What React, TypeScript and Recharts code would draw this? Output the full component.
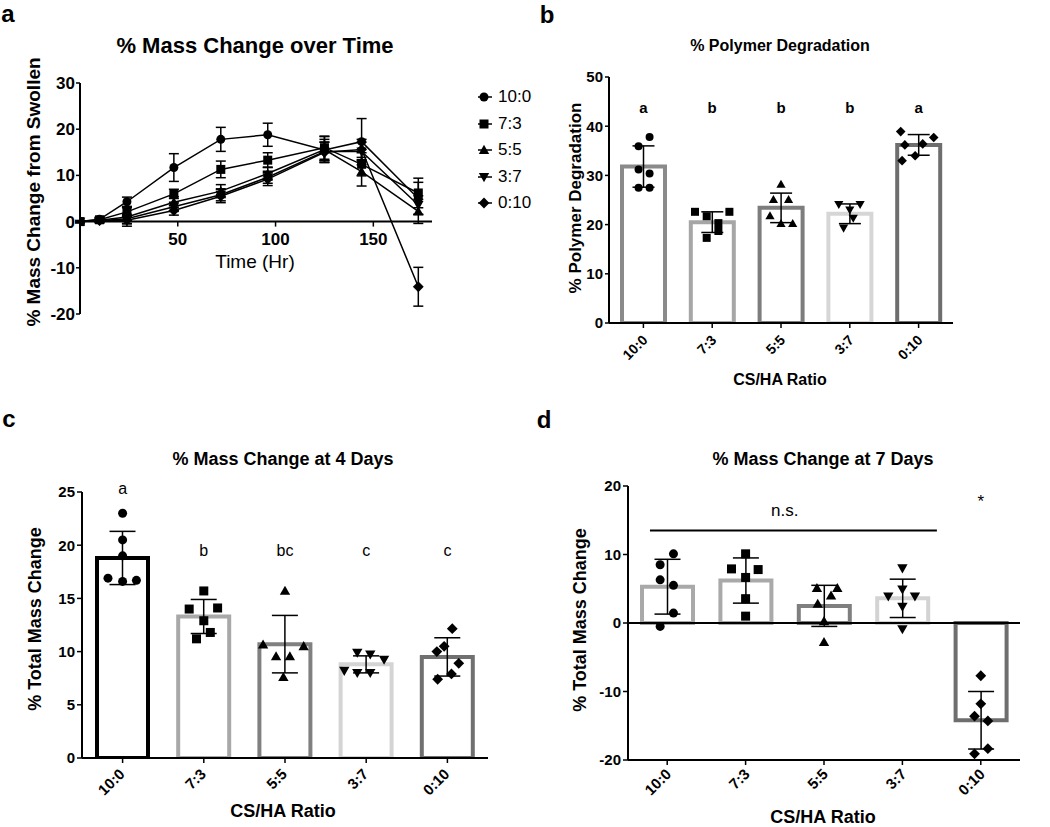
import React from "react";
import {
  Bar,
  Cell,
  ComposedChart,
  ErrorBar,
  Line,
  LineChart,
  ReferenceDot,
  ReferenceLine,
  Scatter,
  XAxis,
  YAxis,
} from "recharts";

const FONT = "'Liberation Sans', Arial, Helvetica, sans-serif";

// ---- panel a: mass change over time ----
const hours = [0, 10, 24, 48, 72, 96, 125, 144, 173];
const mass100 = [0, 0.5, 4.3, 11.7, 17.8, 18.8, 15.5, 17.3, 5.0];
const mass100Sd = [0.2, 0.4, 1.0, 3.0, 2.6, 2.5, 2.3, 5.0, 3.5];
const mass73 = [0, 0.4, 2.1, 6.0, 11.3, 13.3, 16.0, 12.4, 6.2];
const mass73Sd = [0.2, 0.4, 1.0, 1.0, 1.8, 1.6, 2.5, 2.5, 3.2];
const mass55 = [0, 0.3, 1.0, 4.2, 6.6, 10.4, 15.6, 10.8, 2.2];
const mass55Sd = [0.2, 0.3, 2.0, 1.2, 1.4, 1.4, 2.8, 3.1, 2.6];
const mass37 = [0, 0.2, 0.6, 3.2, 5.8, 9.6, 15.2, 15.2, 3.6];
const mass37Sd = [0.2, 0.3, 1.0, 1.0, 1.3, 1.3, 2.0, 2.0, 2.0];
const mass010 = [0, 0.2, 0.3, 2.4, 5.5, 9.2, 15.0, 15.6, -14.1];
const mass010Sd = [0.2, 0.3, 0.8, 1.0, 1.4, 1.4, 2.2, 2.2, 4.2];
const hourTicks = [50, 100, 150];
const massTicks = [-20, -10, 0, 10, 20, 30];

const ratios = ["10:0", "7:3", "5:5", "3:7", "0:10"];
const markerKinds = ["circle", "square", "up", "down", "diamond"];

// ---- panel b: polymer degradation ----
const degMean = [31.8, 20.5, 23.4, 22.2, 36.2];
const degSd = [4.2, 2.1, 3.0, 2.0, 2.1];
const degLetters = ["a", "b", "b", "b", "a"];
const degPts = [
  [37.8, 35.9, 31.2, 30.4, 27.5, 27.5],
  [22.6, 21.7, 22.6, 20.3, 17.3, 18.7],
  [28.2, 25.1, 25.1, 21.8, 20.2, 20.2],
  [24.1, 24.1, 23.0, 21.3, 19.3],
  [38.9, 37.7, 36.2, 36.4, 34.0, 33.0],
];
const degJit = [
  [0.09, -0.07, -0.07, 0.09, -0.07, 0.09],
  [-0.25, -0.08, 0.25, 0.09, -0.08, 0.09],
  [0, -0.11, 0.11, -0.16, 0, 0.17],
  [-0.16, 0.15, 0, 0.05, -0.09],
  [-0.26, 0.22, -0.2, 0.06, -0.05, -0.24],
];
const degTicks = [0, 10, 20, 30, 40, 50];

// ---- panel c: mass change at 4 days ----
const day4Mean = [18.8, 13.3, 10.7, 8.8, 9.5];
const day4Sd = [2.5, 1.6, 2.7, 0.8, 1.8];
const day4Letters = ["a", "b", "bc", "c", "c"];
const day4LetterY = [24.85, 19.0, 19.0, 19.0, 19.0];
const day4Pts = [
  [23.0, 20.5, 19.0, 16.9, 16.6, 16.7],
  [15.7, 14.0, 14.1, 12.9, 11.2, 11.8],
  [15.7, 10.65, 10.5, 9.55, 9.55, 7.6],
  [8.2, 9.9, 9.75, 9.25, 8.0, 8.0],
  [12.15, 10.0, 10.5, 8.9, 7.9, 7.4],
];
const day4Jit = [
  [0, 0, 0, -0.18, 0, 0.17],
  [0, -0.18, 0.17, 0, -0.09, 0.08],
  [0, -0.27, 0.23, -0.11, 0.06, -0.02],
  [-0.27, -0.11, 0.05, 0.22, -0.11, 0.05],
  [0.06, -0.13, -0.04, 0.14, 0.05, -0.12],
];
const day4Ticks = [0, 5, 10, 15, 20, 25];

// ---- panel d: mass change at 7 days ----
const day7Mean = [5.3, 6.2, 2.5, 3.6, -14.2];
const day7Sd = [4.0, 3.3, 3.0, 2.8, 4.2];
const day7Pts = [
  [10.1, 8.5, 6.3, 5.5, 1.45, -0.5],
  [10.1, 7.9, 7.8, 6.65, 3.55, 1.0],
  [5.1, 5.1, 4.0, 2.8, 0.25, -2.8],
  [8.0, 3.9, 3.9, 4.9, 2.4, -0.9],
  [-7.7, -11.8, -13.6, -14.3, -18.35, -19.1],
];
const day7Jit = [
  [0.08, -0.09, -0.09, 0.08, 0.08, -0.09],
  [0, -0.18, 0.16, 0, 0, 0],
  [-0.09, 0.17, 0.09, -0.08, 0, 0],
  [0, -0.18, 0.16, 0, 0, 0],
  [0, 0, -0.08, 0.09, 0.09, -0.08],
];
const day7Ticks = [-20, -10, 0, 10, 20];
const nsSpan = [0.28, 3.94];
const nsLevel = 13.5;

// bar outline greys per panel
const degColors = ["#8a8a8a", "#a6a6a6", "#7d7d7d", "#d6d6d6", "#6e6e6e"];
const day4Colors = ["#000000", "#a8a8a8", "#808080", "#d4d4d4", "#707070"];
const day7Colors = ["#a9a9a9", "#a9a9a9", "#7f7f7f", "#d3d3d3", "#6e6e6e"];

const seriesA = [
  { name: "10:0", mean: mass100, sd: mass100Sd },
  { name: "7:3", mean: mass73, sd: mass73Sd },
  { name: "5:5", mean: mass55, sd: mass55Sd },
  { name: "3:7", mean: mass37, sd: mass37Sd },
  { name: "0:10", mean: mass010, sd: mass010Sd },
];

const tableA = hours.map((t, i) => {
  const row: Record<string, number> = { t };
  seriesA.forEach((s, k) => {
    row[`m${k}`] = s.mean[i];
    row[`e${k}`] = s.sd[i];
  });
  return row;
});

function Marker({ kind, cx, cy, s }: { kind: string; cx?: number; cy?: number; s: number }) {
  if (cx == null || cy == null) return <g />;
  const r = s / 2;
  if (kind === "circle") return <circle cx={cx} cy={cy} r={r} fill="#000" />;
  if (kind === "square")
    return <rect x={cx - r} y={cy - r} width={s} height={s} fill="#000" />;
  if (kind === "up") {
    const t = r * 1.15;
    return (
      <polygon
        points={`${cx},${cy - t} ${cx + t},${cy + t * 0.75} ${cx - t},${cy + t * 0.75}`}
        fill="#000"
      />
    );
  }
  if (kind === "down") {
    const t = r * 1.15;
    return (
      <polygon
        points={`${cx},${cy + t} ${cx + t},${cy - t * 0.75} ${cx - t},${cy - t * 0.75}`}
        fill="#000"
      />
    );
  }
  const d = r * 1.2;
  return (
    <polygon
      points={`${cx},${cy - d} ${cx + d},${cy} ${cx},${cy + d} ${cx - d},${cy}`}
      fill="#000"
    />
  );
}

function Txt({
  x,
  y,
  size,
  bold,
  rotate,
  children,
}: {
  x: number;
  y: number;
  size: number;
  bold?: boolean;
  rotate?: boolean;
  children: React.ReactNode;
}) {
  return (
    <div
      style={{
        position: "absolute",
        left: x,
        top: y,
        transform: `translate(-50%, -50%)${rotate ? " rotate(-90deg)" : ""}`,
        fontSize: size,
        fontWeight: bold ? 700 : 400,
        whiteSpace: "nowrap",
        lineHeight: 1,
        color: "#000",
      }}
    >
      {children}
    </div>
  );
}

const axisLine = { stroke: "#000", strokeWidth: 2 };
const tickLine = { stroke: "#000", strokeWidth: 1.5 };

function RotTick(props: any) {
  const { x, y, payload, fs, dx, dy } = props;
  const ax = x + dx;
  const ay = y + dy;
  return (
    <text
      x={ax}
      y={ay}
      transform={`rotate(-45, ${ax}, ${ay})`}
      textAnchor="end"
      fontSize={fs}
      fontWeight="bold"
      fill="#000"
    >
      {payload.value}
    </text>
  );
}

function textDot(label: string, fs: number, bold: boolean) {
  return (p: any) => (
    <text
      x={p.cx}
      y={p.cy}
      textAnchor="middle"
      fontSize={fs}
      fontWeight={bold ? "bold" : "normal"}
      fill="#000"
    >
      {label}
    </text>
  );
}

interface BarPanelProps {
  w: number;
  h: number;
  margin: { top: number; right: number; bottom: number; left: number };
  yDomain: [number, number];
  yTicks: number[];
  mean: number[];
  sd: number[];
  pts: number[][];
  jit: number[][];
  colors: string[];
  barSize: number;
  cap: number;
  dot: number;
  tickFs: number;
  xTickFs: number;
  xdx: number;
  xdy: number;
  tickSize: number;
  children?: React.ReactNode;
}

function BarPanel(p: BarPanelProps) {
  const rows = ratios.map((r, i) => ({ ratio: r, mean: p.mean[i], sd: p.sd[i] }));
  return (
    <ComposedChart width={p.w} height={p.h} data={rows} margin={p.margin}>
      <XAxis
        xAxisId="cat"
        dataKey="ratio"
        type="category"
        height={60}
        interval={0}
        tickSize={5}
        axisLine={axisLine}
        tickLine={tickLine}
        tick={(t: any) => <RotTick {...t} fs={p.xTickFs} dx={p.xdx} dy={p.xdy} />}
      />
      <XAxis xAxisId="jit" type="number" dataKey="x" domain={[0, 5]} hide allowDataOverflow />
      <YAxis
        width={50}
        domain={p.yDomain}
        ticks={p.yTicks}
        interval={0}
        allowDataOverflow
        tickSize={p.tickSize}
        tickMargin={2}
        axisLine={axisLine}
        tickLine={tickLine}
        tick={{ fontSize: p.tickFs, fontWeight: "bold", fill: "#000" }}
      />
      <Bar
        xAxisId="cat"
        dataKey="mean"
        barSize={p.barSize}
        fill="#fff"
        strokeWidth={4}
        isAnimationActive={false}
      >
        {rows.map((r, i) => (
          <Cell key={r.ratio} stroke={p.colors[i]} fill="#fff" />
        ))}
        <ErrorBar dataKey="sd" width={p.cap} stroke="#000" strokeWidth={1.5} direction="y" />
      </Bar>
      {p.children}
      {ratios.map((r, g) => (
        <Scatter
          key={r}
          xAxisId="jit"
          dataKey="y"
          data={p.pts[g].map((y, k) => ({ x: g + 0.5 + p.jit[g][k], y }))}
          isAnimationActive={false}
          shape={(s: any) => <Marker kind={markerKinds[g]} cx={s.cx} cy={s.cy} s={p.dot} />}
        />
      ))}
    </ComposedChart>
  );
}

function Legend() {
  return (
    <div style={{ position: "absolute", left: 475, top: 84 }}>
      {seriesA.map((s, k) => (
        <div
          key={s.name}
          style={{ display: "flex", alignItems: "center", height: 26.5, fontSize: 17 }}
        >
          <svg width={20} height={14} style={{ marginRight: 3 }}>
            <line x1={3} x2={17} y1={7} y2={7} stroke="#000" strokeWidth={1.5} />
            <Marker kind={markerKinds[k]} cx={9} cy={7} s={9} />
          </svg>
          <span>{s.name}</span>
        </div>
      ))}
    </div>
  );
}

export default function App() {
  return (
    <div
      style={{
        position: "absolute",
        left: 0,
        top: 0,
        width: 1050,
        height: 827,
        background: "#fff",
        fontFamily: FONT,
        overflow: "hidden",
      }}
    >
      {/* panel a */}
      <div style={{ position: "absolute", left: 0, top: 0 }}>
        <LineChart
          width={450}
          height={340}
          data={tableA}
          margin={{ top: 83, right: 18, bottom: 26, left: 20 }}
        >
          <XAxis type="number" dataKey="t" domain={[0, 180]} hide allowDataOverflow />
          <YAxis
            width={60}
            domain={[-20, 30]}
            ticks={massTicks}
            interval={0}
            allowDataOverflow
            tickSize={4}
            tickMargin={1}
            axisLine={axisLine}
            tickLine={tickLine}
            tick={{ fontSize: 17, fontWeight: "bold", fill: "#000" }}
          />
          <ReferenceLine y={0} stroke="#000" strokeWidth={2} />
          {hourTicks.map((t) => (
            <ReferenceDot
              key={t}
              x={t}
              y={0}
              shape={(p: any) => (
                <g>
                  <line x1={p.cx} x2={p.cx} y1={p.cy} y2={p.cy + 5} stroke="#000" strokeWidth={1.5} />
                  <text
                    x={p.cx}
                    y={p.cy + 23}
                    textAnchor="middle"
                    fontSize={17}
                    fontWeight="bold"
                    fill="#000"
                  >
                    {t}
                  </text>
                </g>
              )}
            />
          ))}
          {seriesA.map((s, k) => (
            <Line
              key={s.name}
              dataKey={`m${k}`}
              stroke="#000"
              strokeWidth={1.5}
              isAnimationActive={false}
              activeDot={false}
              dot={(d: any) => (
                <Marker key={`${k}-${d.index}`} kind={markerKinds[k]} cx={d.cx} cy={d.cy} s={9} />
              )}
            >
              <ErrorBar dataKey={`e${k}`} width={5} stroke="#000" strokeWidth={1.5} direction="y" />
            </Line>
          ))}
        </LineChart>
      </div>
      <Legend />
      <Txt x={8} y={14} size={24} bold>a</Txt>
      <Txt x={255} y={46} size={22} bold>% Mass Change over Time</Txt>
      <Txt x={33} y={192} size={19} bold rotate>% Mass Change from Swollen</Txt>
      <Txt x={255} y={261} size={19}>Time (Hr)</Txt>

      {/* panel b */}
      <div style={{ position: "absolute", left: 480, top: 0 }}>
        <BarPanel
          w={500}
          h={400}
          margin={{ top: 77, right: 27, bottom: 17, left: 79 }}
          yDomain={[0, 50]}
          yTicks={degTicks}
          mean={degMean}
          sd={degSd}
          pts={degPts}
          jit={degJit}
          colors={degColors}
          barSize={43}
          cap={11}
          dot={8}
          tickFs={15}
          xTickFs={14}
          xdx={5}
          xdy={11}
          tickSize={4}
        >
          {degLetters.map((l, i) => (
            <ReferenceDot
              key={i}
              xAxisId="jit"
              x={i + 0.5}
              y={42.6}
              ifOverflow="visible"
              shape={textDot(l, 15, true)}
            />
          ))}
        </BarPanel>
      </div>
      <Txt x={547} y={15} size={24} bold>b</Txt>
      <Txt x={780} y={46} size={16} bold>% Polymer Degradation</Txt>
      <Txt x={575} y={198} size={17} bold rotate>% Polymer Degradation</Txt>
      <Txt x={780} y={380} size={16} bold>CS/HA Ratio</Txt>

      {/* panel c */}
      <div style={{ position: "absolute", left: 0, top: 400 }}>
        <BarPanel
          w={500}
          h={427}
          margin={{ top: 92, right: 12, bottom: 9, left: 32 }}
          yDomain={[0, 25]}
          yTicks={day4Ticks}
          mean={day4Mean}
          sd={day4Sd}
          pts={day4Pts}
          jit={day4Jit}
          colors={day4Colors}
          barSize={51}
          cap={13}
          dot={9}
          tickFs={15}
          xTickFs={15}
          xdx={3}
          xdy={10}
          tickSize={5}
        >
          {day4Letters.map((l, i) => (
            <ReferenceDot
              key={i}
              xAxisId="jit"
              x={i + 0.5}
              y={day4LetterY[i]}
              ifOverflow="visible"
              shape={textDot(l, 16, false)}
            />
          ))}
        </BarPanel>
      </div>
      <Txt x={9} y={419} size={24} bold>c</Txt>
      <Txt x={283} y={459} size={18} bold>% Mass Change at 4 Days</Txt>
      <Txt x={35} y={619} size={18} bold rotate>% Total Mass Change</Txt>
      <Txt x={283} y={811} size={18} bold>CS/HA Ratio</Txt>

      {/* panel d */}
      <div style={{ position: "absolute", left: 500, top: 400 }}>
        <BarPanel
          w={550}
          h={427}
          margin={{ top: 86, right: 30, bottom: 7, left: 78 }}
          yDomain={[-20, 20]}
          yTicks={day7Ticks}
          mean={day7Mean}
          sd={day7Sd}
          pts={day7Pts}
          jit={day7Jit}
          colors={day7Colors}
          barSize={51}
          cap={13}
          dot={9}
          tickFs={15}
          xTickFs={15}
          xdx={5}
          xdy={8}
          tickSize={5}
        >
          <ReferenceLine xAxisId="jit" y={0} stroke="#000" strokeWidth={2} />
          <ReferenceLine
            xAxisId="jit"
            segment={[
              { x: nsSpan[0], y: nsLevel },
              { x: nsSpan[1], y: nsLevel },
            ]}
            stroke="#000"
            strokeWidth={2}
            ifOverflow="visible"
          />
          <ReferenceDot
            xAxisId="jit"
            x={2.0}
            y={15.66}
            ifOverflow="visible"
            shape={textDot("n.s.", 17, false)}
          />
          <ReferenceDot
            xAxisId="jit"
            x={4.5}
            y={17.0}
            ifOverflow="visible"
            shape={textDot("*", 17, false)}
          />
        </BarPanel>
      </div>
      <Txt x={544} y={420} size={24} bold>d</Txt>
      <Txt x={823} y={459} size={18} bold>% Mass Change at 7 Days</Txt>
      <Txt x={580} y={620} size={18} bold rotate>% Total Mass Change</Txt>
      <Txt x={823} y={817} size={18} bold>CS/HA Ratio</Txt>
    </div>
  );
}
